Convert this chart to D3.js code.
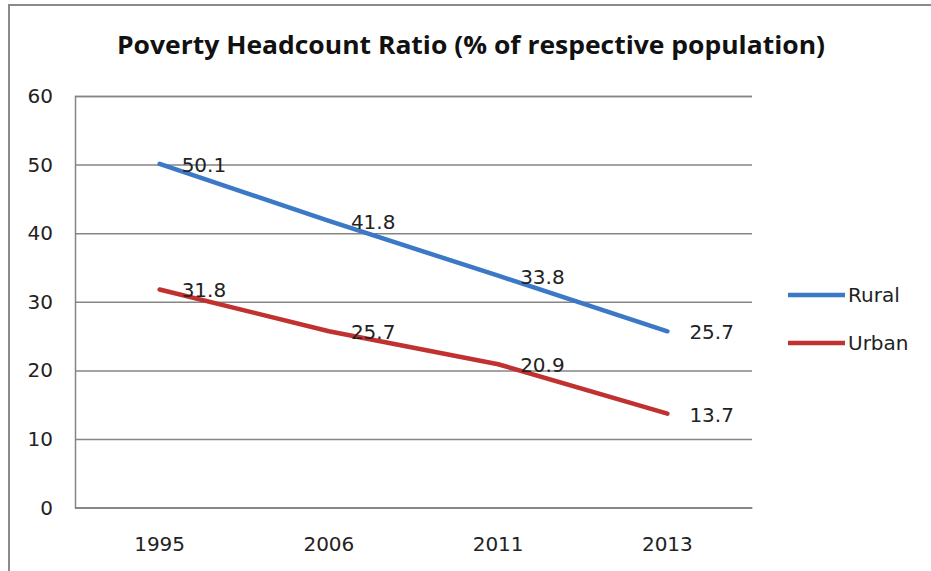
<!DOCTYPE html>
<html>
<head>
<meta charset="utf-8">
<script src="https://cdn.jsdelivr.net/npm/d3@7/dist/d3.min.js"></script>
<style>
  html, body { margin: 0; padding: 0; background: #fff; }
  svg { display: block; }
</style>
</head>
<body>
<svg id="chart" width="931" height="571"></svg>
<script>
// Poverty headcount ratio by survey year
const years = ["1995", "2006", "2011", "2013"];
const rural = [50.1, 41.8, 33.8, 25.7];
const urban = [31.8, 25.7, 20.9, 13.7];
const seriesNames = ["Rural", "Urban"];
const seriesColors = ["#3b78c6", "#c0312f"];
const yTicks = [0, 10, 20, 30, 40, 50, 60];
const titleText = "Poverty Headcount Ratio (% of respective population)";

const series = [
  { name: seriesNames[0], values: rural, color: seriesColors[0] },
  { name: seriesNames[1], values: urban, color: seriesColors[1] }
];

const svg = d3.select("#chart");
const titleFont = "'Open Sans', 'Noto Sans', sans-serif";
const bodyFont = "'DejaVu Sans', 'Noto Sans', sans-serif";

// outer chart frame
svg.append("rect")
  .attr("x", 9).attr("y", 5)
  .attr("width", 1000).attr("height", 1000)
  .attr("fill", "#fff")
  .attr("stroke", "#8a8a8a").attr("stroke-width", 2);

const plot = { left: 75, right: 752, top: 96, bottom: 507.6 };

const x = d3.scaleBand().domain(years).range([plot.left, plot.right]);
const y = d3.scaleLinear().domain([0, 60]).range([plot.bottom, plot.top]);

// title
svg.append("text")
  .attr("x", 471).attr("y", 54)
  .attr("text-anchor", "middle")
  .attr("font-family", titleFont)
  .attr("font-weight", "bold")
  .attr("font-size", 25)
  .attr("fill", "#111")
  .attr("textLength", 708)
  .attr("lengthAdjust", "spacingAndGlyphs")
  .text(titleText);

// horizontal gridlines + y labels
const yAxis = d3.axisLeft(y).tickValues(yTicks)
  .tickSize(-(plot.right - plot.left)).tickPadding(22);
const gy = svg.append("g")
  .attr("transform", `translate(${plot.left},0)`)
  .call(yAxis);
gy.select(".domain").attr("stroke", "#858585").attr("stroke-width", 1.5);
gy.selectAll(".tick line").attr("stroke", "#858585").attr("stroke-width", 1.5);
gy.selectAll(".tick text")
  .attr("font-family", bodyFont).attr("font-size", 20)
  .attr("fill", "#222");

// category axis
const xAxis = d3.axisBottom(x).tickSize(0).tickPadding(29);
const gx = svg.append("g")
  .attr("transform", `translate(0,${plot.bottom})`)
  .call(xAxis);
gx.select(".domain").attr("stroke", "#858585").attr("stroke-width", 1.5);
gx.selectAll(".tick text")
  .attr("font-family", bodyFont).attr("font-size", 20)
  .attr("fill", "#222");

const cx = d => x(d) + x.bandwidth() / 2;
const line = d3.line().x((v, i) => cx(years[i])).y(v => y(v));

// series lines
svg.append("g").selectAll("path")
  .data(series).join("path")
  .attr("d", s => line(s.values))
  .attr("fill", "none")
  .attr("stroke", s => s.color)
  .attr("stroke-width", 4.5)
  .attr("stroke-linecap", "round")
  .attr("stroke-linejoin", "round");

// value labels to the right of each point
series.forEach(s => {
  svg.append("g").selectAll("text")
    .data(s.values).join("text")
    .attr("x", (v, i) => cx(years[i]) + 22)
    .attr("y", v => y(v) + 1)
    .attr("dy", "0.35em")
    .attr("font-family", bodyFont)
    .attr("font-size", 20)
    .attr("fill", "#222")
    .text(v => v.toFixed(1));
});

// legend
const legend = svg.append("g").selectAll("g")
  .data(series).join("g")
  .attr("transform", (s, i) => `translate(788,${295 + i * 48})`);
legend.append("line")
  .attr("x1", 0).attr("x2", 57)
  .attr("stroke", s => s.color).attr("stroke-width", 4.5);
legend.append("text")
  .attr("x", 60).attr("dy", "0.35em")
  .attr("font-family", bodyFont).attr("font-size", 20)
  .attr("fill", "#222")
  .text(s => s.name);
</script>
</body>
</html>
